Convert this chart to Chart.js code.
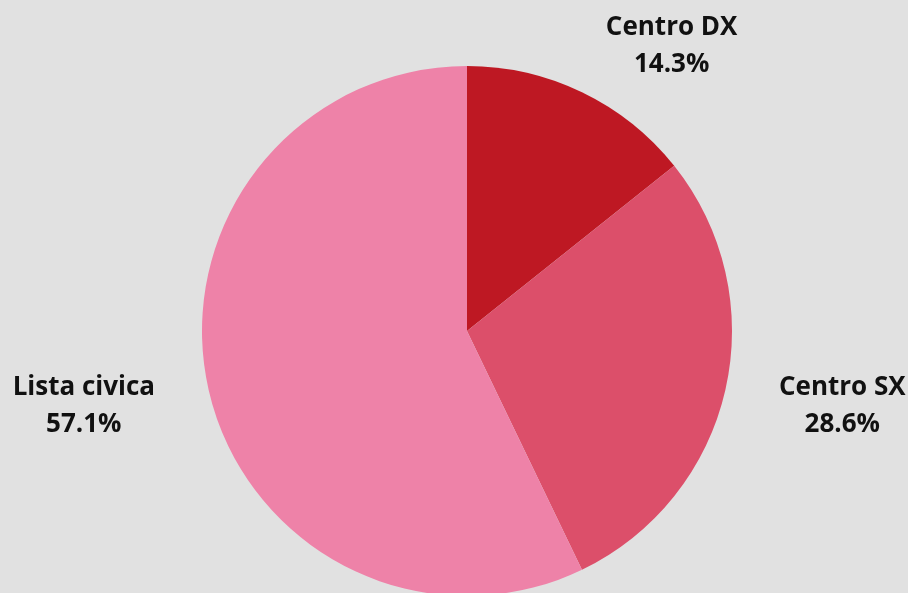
<!DOCTYPE html>
<html>
<head>
<meta charset="utf-8">
<script src="https://cdn.jsdelivr.net/npm/chart.js@4/dist/chart.umd.min.js"></script>
<style>
  html, body { margin: 0; padding: 0; background: #e1e1e1; overflow: hidden; }
  #wrap { width: 908px; height: 600px; position: relative; }
</style>
</head>
<body>
<div id="wrap"><canvas id="pieCanvas"></canvas></div>
<script>
const categories = ['Centro DX', 'Centro SX', 'Lista civica'];
const seats = [1, 2, 4];
const sliceColors = ['#be1823', '#dc4f6a', '#ee82a8'];
const labelFont = 'bold 26px "Open Sans"';

// labels sit outside the pie, anchored at the edge nearest the slice
const outsideLabels = {
  id: 'outsideLabels',
  afterDraw(chart) {
    const ctx = chart.ctx;
    const meta = chart.getDatasetMeta(0);
    const total = seats.reduce((a, b) => a + b, 0);
    ctx.save();
    ctx.fillStyle = '#111';
    ctx.font = labelFont;
    ctx.textBaseline = 'middle';
    meta.data.forEach((arc, i) => {
      const mid = (arc.startAngle + arc.endAngle) / 2;
      const r = arc.outerRadius + 55;
      const x = arc.x + Math.cos(mid) * r;
      const y = arc.y + Math.sin(mid) * r;
      const pct = (seats[i] / total * 100).toFixed(1) + '%';
      const w1 = ctx.measureText(categories[i]).width;
      const w2 = ctx.measureText(pct).width;
      const w = Math.max(w1, w2);
      const cx = Math.cos(mid) >= 0 ? x + w / 2 : x - w / 2;
      ctx.textAlign = 'center';
      ctx.fillText(categories[i], cx, y - 15);
      ctx.fillText(pct, cx, y + 22);
    });
    ctx.restore();
  }
};

function drawChart() {
  new Chart(document.getElementById('pieCanvas'), {
    type: 'pie',
    data: {
      labels: categories,
      datasets: [{
        data: seats,
        backgroundColor: sliceColors,
        borderWidth: 0
      }]
    },
    options: {
      responsive: true,
      maintainAspectRatio: false,
      animation: false,
      layout: { padding: { top: 66, bottom: 4, left: 26, right: 0 } },
      plugins: {
        legend: { display: false },
        tooltip: { enabled: false }
      }
    },
    plugins: [outsideLabels]
  });
}

document.fonts.load(labelFont).then(drawChart, drawChart);
</script>
</body>
</html>
